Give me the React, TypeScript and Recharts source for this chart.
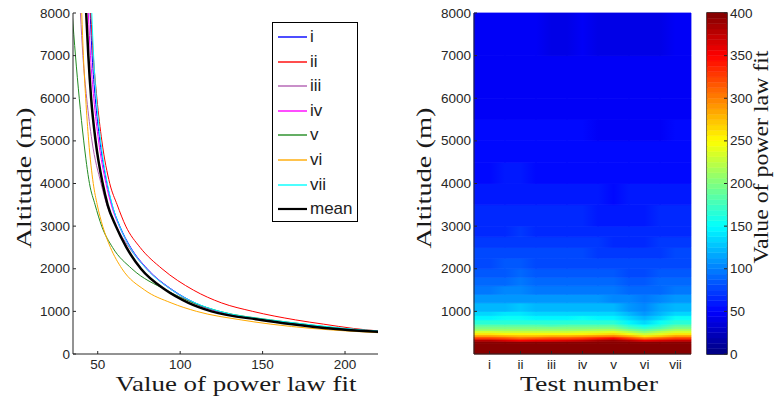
import React from "react"
import { LineChart, Line, XAxis, YAxis, BarChart, Bar, Cell, Legend, ReferenceArea } from "recharts"

const ALT_LEVELS = [8000, 7000, 6000, 5000, 4000, 3500, 3000, 2500, 2000, 1500, 1200, 1000, 800, 700, 600, 500]

// value of the power law fit at each altitude level, per test
const FIT_I = [45.4, 46.6, 48.5, 51.3, 55.6, 58.7, 63.4, 70, 80, 95.5, 109, 123, 152, 173, 197, 234]
const FIT_II = [45.8, 47.3, 49.5, 52.5, 57.3, 61.8, 67, 75.7, 89, 108, 125, 144, 170, 187, 205, 235]
const FIT_III = [39.5, 41, 43.3, 46.5, 52, 55.5, 61.2, 69, 79.5, 95, 108, 122, 151, 172, 195, 232]
const FIT_IV = [44.3, 45.6, 47.6, 50.5, 55, 58.2, 63, 69.7, 79.8, 95, 108.5, 123, 152, 173, 196, 233]
const FIT_V = [34.5, 36.5, 38.8, 41.5, 45, 48.4, 52.4, 59, 70.7, 91.5, 108, 124, 155, 175.5, 197, 228]
const FIT_VI = [40.3, 41.3, 42.7, 44.5, 47.3, 49.7, 53, 57.7, 64.7, 78.5, 94.5, 110, 137, 155, 180, 220]
const FIT_VII = [46.4, 47.5, 49.2, 51.8, 55.8, 58.8, 63.2, 69.6, 79.5, 95, 109, 124, 154, 176, 200, 240]
const FIT_MEAN = [43, 44.3, 46, 48.7, 53, 56, 61, 67.4, 76.2, 91.2, 105, 119, 149, 168, 191, 232]

const SERIES_NAMES = ["i", "ii", "iii", "iv", "v", "vi", "vii", "mean"]
const SERIES_VALUES = [FIT_I, FIT_II, FIT_III, FIT_IV, FIT_V, FIT_VI, FIT_VII, FIT_MEAN]
const SERIES_COLORS = ["#0000ff", "#ff0000", "#b25fb2", "#ff00ff", "#228b22", "#ffaa00", "#00ffff", "#000000"]

const X_TICKS = [50, 100, 150, 200]
const Y_TICKS = [0, 1000, 2000, 3000, 4000, 5000, 6000, 7000, 8000]
const HEAT_Y_TICKS = [1000, 2000, 3000, 4000, 5000, 6000, 7000, 8000]
const CB_TICKS = [0, 50, 100, 150, 200, 250, 300, 350, 400]

// heat map: altitude bin edges (m) and value per bin for tests i..vii
const TESTS = ["i", "ii", "iii", "iv", "v", "vi", "vii"]
const ALT_EDGES = [0, 250, 300, 350, 400, 450, 500, 550, 600, 650, 700, 800, 900, 1000, 1200, 1400, 1600, 1800, 2000, 2250, 2500, 2750, 3000, 3500, 4000, 4500, 5000, 5500, 6000, 7000, 8000]
const HEAT_ROWS = [
  [480, 480, 480, 480, 480, 480, 480],
  [420, 405, 410, 420, 430, 410, 420],
  [375, 355, 362, 372, 392, 360, 372],
  [330, 312, 320, 328, 355, 305, 328],
  [290, 278, 283, 288, 305, 258, 290],
  [257, 250, 252, 256, 268, 228, 258],
  [232, 228, 229, 232, 240, 204, 234],
  [212, 210, 210, 212, 216, 182, 214],
  [196, 195, 195, 197, 198, 164, 198],
  [182, 182, 181, 183, 182, 150, 184],
  [165, 166, 164, 166, 163, 134, 167],
  [149, 151, 148, 150, 146, 120, 150],
  [136, 139, 135, 137, 133, 111, 137],
  [122, 125, 121, 123, 119, 102, 123],
  [109, 111, 108, 109, 106, 94, 109],
  [99, 101, 98, 99, 96, 88, 99],
  [92, 94, 91, 92, 89, 83, 92],
  [86, 88, 85, 86, 83, 79, 86],
  [81, 82, 80, 80, 77, 75, 81],
  [76, 77, 75, 75, 72, 71, 76],
  [72, 73, 71, 71, 68, 68, 72],
  [68, 69, 67, 67, 64, 65, 68],
  [64, 65, 63, 63, 60, 62, 64],
  [59, 60, 58, 58, 56, 58, 59],
  [56, 57, 55, 55, 53, 55, 56],
  [54, 54, 52, 53, 51, 52, 53],
  [51, 52, 50, 50, 48, 49, 50],
  [49, 49, 47, 48, 46, 47, 48],
  [47, 47, 45, 46, 44, 45, 46],
  [45, 45, 43, 44, 42, 43, 44],
]

const CB_MAX = 400
const CB_LEVELS = 64

const AXIS = "#262626"
const SANS = "'Liberation Sans', Arial, sans-serif"
const SERIF = "'Liberation Serif', 'Times New Roman', serif"

// matlab style jet colormap, 64 levels
function jet(val: number) {
  const t = Math.min(1, Math.max(0, val / CB_MAX))
  const q = (Math.min(CB_LEVELS - 1, Math.floor(t * CB_LEVELS)) + 0.5) / CB_LEVELS
  const c = (a: number) => Math.round(255 * Math.min(1, Math.max(0, a)))
  const r = c(Math.min(4 * q - 1.5, -4 * q + 4.5))
  const g = c(Math.min(4 * q - 0.5, -4 * q + 3.5))
  const b = c(Math.min(4 * q + 0.5, -4 * q + 2.5))
  return `rgb(${r},${g},${b})`
}

// ticks drawn inward like matlab, tickSize=0 so props x/y sit `gap` px off the axis
function makeTick(side: string, gap: number, len: number, label: boolean) {
  return (props: any) => {
    const { x, y, payload } = props
    const txt = label ? payload.value : null
    const textStyle = { fontFamily: SANS, fontSize: 13.5, fill: AXIS }
    if (side === "left") {
      const ax = x + gap
      return (
        <g>
          <line x1={ax} x2={ax + len} y1={y} y2={y} stroke={AXIS} />
          {label && <text x={x} y={y} dy={4.5} textAnchor="end" style={textStyle}>{txt}</text>}
        </g>
      )
    }
    if (side === "right") {
      const ax = x - gap
      return (
        <g>
          <line x1={ax} x2={ax - len} y1={y} y2={y} stroke={AXIS} />
          {label && <text x={x} y={y} dy={4.5} textAnchor="start" style={textStyle}>{txt}</text>}
        </g>
      )
    }
    if (side === "top") {
      const ay = y + gap
      return <line x1={x} x2={x} y1={ay} y2={ay + len} stroke={AXIS} />
    }
    const ay = y - gap
    return (
      <g>
        <line x1={x} x2={x} y1={ay} y2={ay - len} stroke={AXIS} />
        {label && <text x={x} y={y} dy={9} textAnchor="middle" style={textStyle}>{txt}</text>}
      </g>
    )
  }
}

function LegendBox() {
  return (
    <div
      style={{
        width: 84,
        height: 198,
        border: "1.5px solid #000",
        background: "#fff",
        fontFamily: SANS,
        fontSize: 17,
        color: "#222",
        position: "relative",
      }}
    >
      {SERIES_NAMES.map((name, i) => (
        <div key={name} style={{ position: "absolute", left: 0, top: 2 + i * 24.6, height: 24, width: 84 }}>
          <svg width={36} height={24} style={{ position: "absolute", left: 3, top: 0 }}>
            <line x1={2} x2={31} y1={12} y2={12} stroke={SERIES_COLORS[i]} strokeWidth={name === "mean" ? 2.2 : 1.4} />
          </svg>
          <span style={{ position: "absolute", left: 37, top: 0, lineHeight: "24px" }}>{name}</span>
        </div>
      ))}
    </div>
  )
}

function FitLines() {
  return (
    <LineChart width={380} height={398} margin={{ top: 13, right: 2, bottom: 14, left: 0 }}>
      <XAxis
        type="number"
        dataKey="v"
        domain={[35, 220]}
        ticks={X_TICKS}
        allowDataOverflow
        height={30}
        tickSize={0}
        tickMargin={6}
        tickLine={false}
        stroke={AXIS}
        tick={makeTick("bottom", 6, 3, true)}
      />
      <YAxis
        type="number"
        domain={[0, 8000]}
        ticks={Y_TICKS}
        allowDataOverflow
        width={73}
        tickSize={0}
        tickMargin={3}
        tickLine={false}
        stroke={AXIS}
        tick={makeTick("left", 3, 3, true)}
      />
      {SERIES_NAMES.map((name, i) => {
        const pts = ALT_LEVELS.map((alt, k) => ({ v: SERIES_VALUES[i][k], alt })).reverse()
        return (
          <Line
            key={name}
            name={name}
            data={pts}
            dataKey="alt"
            type="monotone"
            stroke={SERIES_COLORS[i]}
            strokeWidth={name === "mean" ? 2.5 : 1}
            dot={false}
            isAnimationActive={false}
          />
        )
      })}
      <Legend
        layout="horizontal"
        align="center"
        verticalAlign="middle"
        wrapperStyle={{ left: 272, top: 22, width: 88, height: 202 }}
        content={() => <LegendBox />}
      />
    </LineChart>
  )
}

// horizontal shading between neighbouring tests, like matlab's interpolated shading
function cellStops(vals: number[], ci: number) {
  const v = vals[ci]
  const left = ci > 0 ? (vals[ci - 1] + v) / 2 : v
  const right = ci < vals.length - 1 ? (vals[ci + 1] + v) / 2 : v
  return [jet(left), jet(v), jet(right)]
}

function HeatMap() {
  const heatData = TESTS.map((test) => {
    const row: Record<string, any> = { test }
    HEAT_ROWS.forEach((_, ri) => {
      row[`b${ri}`] = ALT_EDGES[ri + 1] - ALT_EDGES[ri]
    })
    return row
  })
  // plot area is 217px wide (7 x 31) so each test column gets a whole-pixel band
  return (
    <BarChart
      width={320}
      height={398}
      data={heatData}
      barCategoryGap={0}
      barGap={0}
      margin={{ top: 13, right: 9, bottom: 14, left: 0 }}
    >
      <defs>
        {HEAT_ROWS.map((vals, ri) =>
          vals.map((_, ci) => {
            const [a, b, c] = cellStops(vals, ci)
            return (
              <linearGradient key={`${ri}-${ci}`} id={`hg-${ri}-${ci}`} x1="0" y1="0" x2="1" y2="0">
                <stop offset="0" stopColor={a} />
                <stop offset="0.5" stopColor={b} />
                <stop offset="1" stopColor={c} />
              </linearGradient>
            )
          })
        )}
      </defs>
      <XAxis
        dataKey="test"
        height={30}
        tickSize={0}
        tickMargin={6}
        tickLine={false}
        stroke={AXIS}
        interval={0}
        tick={makeTick("bottom", 6, 3, true)}
      />
      <XAxis
        xAxisId="top"
        dataKey="test"
        orientation="top"
        height={0}
        tickSize={0}
        tickMargin={0}
        tickLine={false}
        stroke={AXIS}
        interval={0}
        tick={makeTick("top", 0, 3, false)}
      />
      <YAxis
        type="number"
        domain={[0, 8000]}
        ticks={HEAT_Y_TICKS}
        width={94}
        tickSize={0}
        tickMargin={3}
        tickLine={false}
        stroke={AXIS}
        tick={makeTick("left", 3, 3, true)}
      />
      <YAxis
        yAxisId="r"
        orientation="right"
        type="number"
        domain={[0, 8000]}
        ticks={HEAT_Y_TICKS}
        width={0}
        tickSize={0}
        tickMargin={0}
        tickLine={false}
        stroke={AXIS}
        tick={makeTick("right", 0, 3, false)}
      />
      {HEAT_ROWS.map((vals, ri) => (
        <Bar key={ri} dataKey={`b${ri}`} stackId="h" isAnimationActive={false}>
          {vals.map((_, ci) => (
            <Cell key={ci} fill={`url(#hg-${ri}-${ci})`} stroke={`url(#hg-${ri}-${ci})`} strokeWidth={0.8} />
          ))}
        </Bar>
      ))}
    </BarChart>
  )
}

function ColorBar() {
  const row: Record<string, any> = { c: "cb" }
  for (let k = 0; k < CB_LEVELS; k++) row[`k${k}`] = CB_MAX / CB_LEVELS
  return (
    <BarChart
      width={76}
      height={398}
      data={[row]}
      barCategoryGap={0}
      margin={{ top: 13, right: 0, bottom: 44, left: 7 }}
    >
      <XAxis dataKey="c" hide />
      <YAxis
        orientation="right"
        type="number"
        domain={[0, CB_MAX]}
        ticks={CB_TICKS}
        width={49}
        tickSize={0}
        tickMargin={3}
        tickLine={false}
        axisLine={false}
        tick={makeTick("right", 3, 3, true)}
      />
      {Array.from({ length: CB_LEVELS }, (_, k) => (
        <Bar key={k} dataKey={`k${k}`} stackId="cb" isAnimationActive={false}>
          <Cell fill={jet((k + 0.5) * (CB_MAX / CB_LEVELS))} stroke={jet((k + 0.5) * (CB_MAX / CB_LEVELS))} strokeWidth={0.5} />
        </Bar>
      ))}
      <ReferenceArea y1={0} y2={CB_MAX} fill="none" stroke="#000" strokeWidth={1.3} ifOverflow="extendDomain" />
    </BarChart>
  )
}

export default function App() {
  const title = { fontFamily: SERIF, fontSize: 22, fill: "#1a1a1a" }
  return (
    <div style={{ position: "absolute", left: 0, top: 0, width: 776, height: 398, background: "#fff", overflow: "hidden" }}>
      <div style={{ position: "absolute", left: 0, top: 0 }}>
        <FitLines />
      </div>
      <div style={{ position: "absolute", left: 380, top: 0 }}>
        <HeatMap />
      </div>
      <div style={{ position: "absolute", left: 700, top: 0 }}>
        <ColorBar />
      </div>
      <svg width={776} height={398} style={{ position: "absolute", left: 0, top: 0, pointerEvents: "none" }}>
        <text transform="translate(31,178) rotate(-90)" textAnchor="middle" textLength={141} lengthAdjust="spacingAndGlyphs" style={title}>
          Altitude (m)
        </text>
        <text x={236} y={391} textAnchor="middle" textLength={241} lengthAdjust="spacingAndGlyphs" style={title}>
          Value of power law fit
        </text>
        <text transform="translate(431,178) rotate(-90)" textAnchor="middle" textLength={141} lengthAdjust="spacingAndGlyphs" style={title}>
          Altitude (m)
        </text>
        <text x={589} y={391} textAnchor="middle" textLength={138} lengthAdjust="spacingAndGlyphs" style={title}>
          Test number
        </text>
        <text transform="translate(768,157) rotate(-90)" textAnchor="middle" textLength={213} lengthAdjust="spacingAndGlyphs" style={title}>
          Value of power law fit
        </text>
      </svg>
    </div>
  )
}
